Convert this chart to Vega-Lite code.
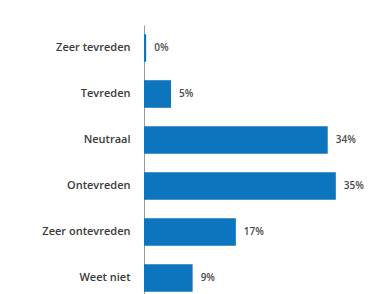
{
  "$schema": "https://vega.github.io/schema/vega-lite/v6.json",
  "autosize": "none",
  "width": 241,
  "height": 276,
  "padding": {"left": 144, "top": 25, "right": 0, "bottom": 0},
  "background": "white",
  "data": {"values": [
    {"cat": "Zeer tevreden", "value": 0.4, "label": "0%"},
    {"cat": "Tevreden", "value": 5, "label": "5%"},
    {"cat": "Neutraal", "value": 34, "label": "34%"},
    {"cat": "Ontevreden", "value": 35.5, "label": "35%"},
    {"cat": "Zeer ontevreden", "value": 17, "label": "17%"},
    {"cat": "Weet niet", "value": 9, "label": "9%"}
  ]},
  "encoding": {
    "y": {"field": "cat", "type": "nominal", "sort": null,
      "scale": {"paddingInner": 0.4, "paddingOuter": 0.2},
      "axis": {"title": null, "ticks": false, "labelPadding": 14, "domainColor": "#9a9a9a", "domainWidth": 1,
        "labelFont": "Open Sans", "labelFontSize": 11, "labelColor": "#3a3a3a", "labelFontWeight": 600}},
    "x": {"field": "value", "type": "quantitative", "scale": {"domain": [0, 44.6]}, "axis": null}
  },
  "layer": [
    {"mark": {"type": "bar", "color": "#0d75be"}},
    {"mark": {"type": "text", "align": "left", "dx": 8, "font": "Open Sans", "fontSize": 10, "fontWeight": 600, "color": "#4a4a4a"},
     "encoding": {"text": {"field": "label"}}}
  ],
  "config": {"view": {"stroke": null}}
}
